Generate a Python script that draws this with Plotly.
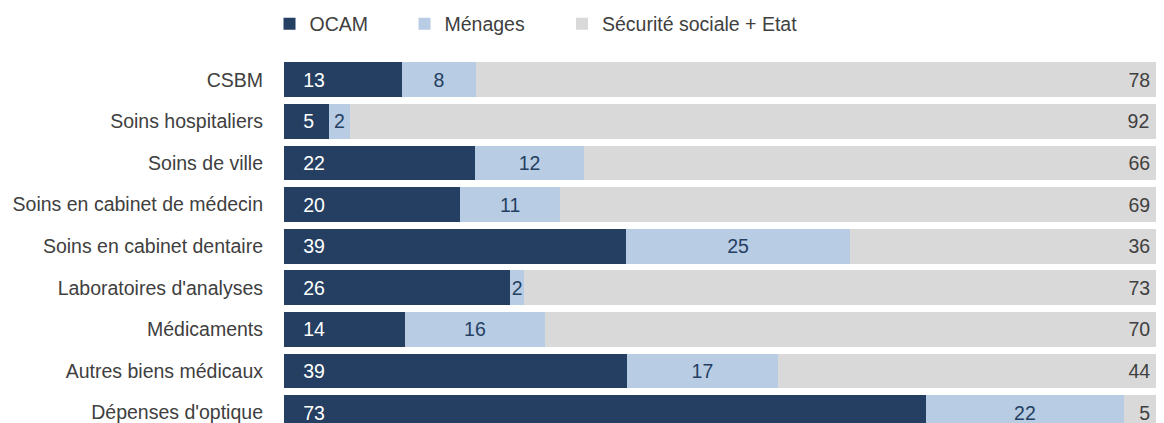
import plotly.graph_objects as go

# Répartition du financement par poste (en %)
categories = ["CSBM", "Soins hospitaliers", "Soins de ville", "Soins en cabinet de médecin",
              "Soins en cabinet dentaire", "Laboratoires d'analyses", "Médicaments",
              "Autres biens médicaux", "Dépenses d'optique"]
ocam = [13.4, 5.1, 21.7, 20.0, 38.9, 25.7, 13.7, 39.0, 73.0]
menages = [8.4, 2.4, 12.4, 11.4, 25.4, 1.6, 16.0, 17.1, 22.4]
secu_etat = [78.2, 92.4, 65.9, 68.6, 35.7, 72.7, 70.3, 43.9, 4.6]

FONT = "Liberation Sans, Arial, sans-serif"
SIZE = 19.5
NB = "\u00a0"
# the page body has an 8px margin, so the figure is drawn 8px smaller
OFF = 8
W, H = 1164 - OFF, 423 - OFF

fig = go.Figure()

fig.add_trace(go.Bar(
    y=categories, x=ocam, name="OCAM", orientation="h", legend="legend",
    marker=dict(color="#243f61", line=dict(width=0)),
    texttemplate=NB * 3 + "%{x:.0f}", textposition="inside", insidetextanchor="start",
    textangle=0, textfont=dict(color="white"),
))
fig.add_trace(go.Bar(
    y=categories, x=menages, name="Ménages", orientation="h", legend="legend2",
    marker=dict(color="#b8cce4", line=dict(width=0)),
    texttemplate="%{x:.0f}", textposition="inside", insidetextanchor="middle",
    textangle=0, textfont=dict(color="#243f61"),
))
fig.add_trace(go.Bar(
    y=categories, x=secu_etat, name="Sécurité sociale + Etat", orientation="h", legend="legend3",
    marker=dict(color="#d9d9d9", line=dict(width=0)),
    texttemplate="%{x:.0f}" + NB * 2, textposition="inside", insidetextanchor="end",
    textangle=0, textfont=dict(color="#404040"),
))


def leg(left_px):
    # one legend per entry so each can sit where the original puts it
    return dict(orientation="h", xref="container", yref="container",
                x=(left_px - OFF) / W, xanchor="left", y=1 - (24 - OFF) / H, yanchor="middle",
                font=dict(size=SIZE), bgcolor="rgba(0,0,0,0)")


fig.update_layout(
    barmode="stack",
    bargap=0.16,
    width=W, height=H,
    margin=dict(l=284 - OFF, r=0, t=59 - OFF, b=0),
    plot_bgcolor="white", paper_bgcolor="white",
    font=dict(family=FONT, size=SIZE, color="#404040"),
    uniformtext=dict(minsize=SIZE, mode="show"),
    showlegend=True,
    legend=leg(269.5),
    legend2=leg(404.5),
    legend3=leg(562),
    xaxis=dict(range=[0, 100], visible=False, fixedrange=True),
    yaxis=dict(categoryorder="array", categoryarray=categories,
               range=[8.25, -0.5], showgrid=False, zeroline=False,
               ticks="", ticklabelstandoff=20, showline=False, automargin=False),
)

fig.write_html("out.html")
